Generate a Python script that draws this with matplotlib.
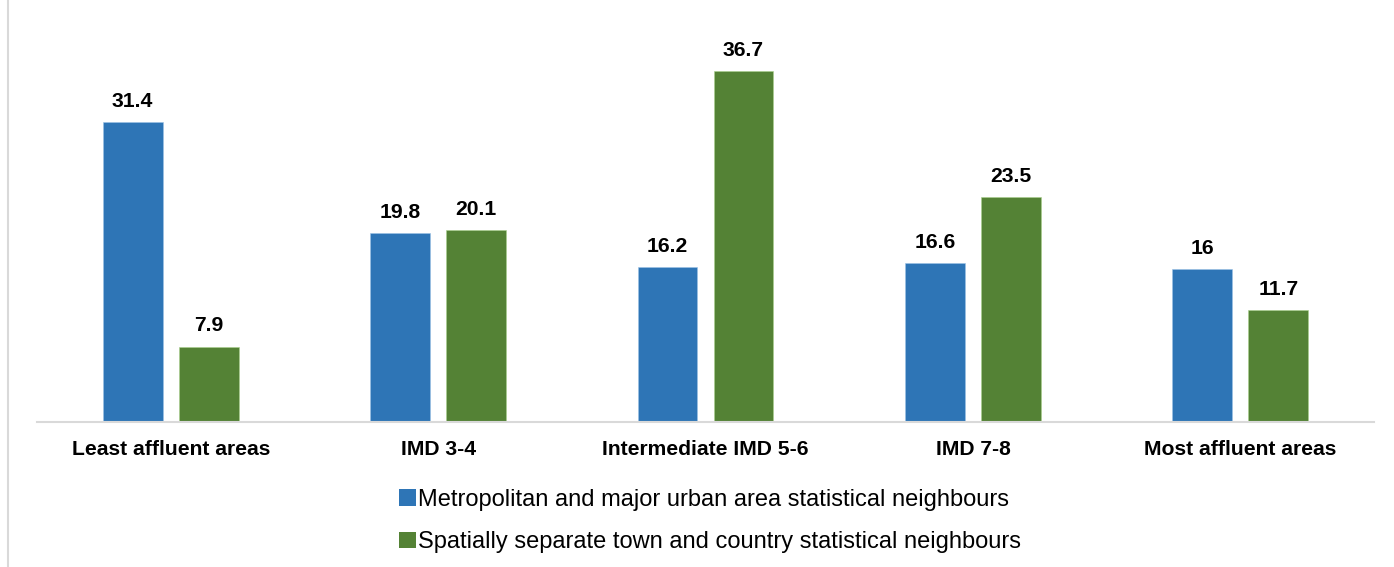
import matplotlib
matplotlib.use("Agg")
import matplotlib.pyplot as plt
from matplotlib.lines import Line2D
from matplotlib.patches import Patch
import numpy as np

categories = ["Least affluent areas", "IMD 3-4", "Intermediate IMD 5-6", "IMD 7-8", "Most affluent areas"]
series_names = ["Metropolitan and major urban area statistical neighbours",
                "Spatially separate town and country statistical neighbours"]
metro = [31.4, 19.8, 16.2, 16.6, 16]
spatial = [7.9, 20.1, 36.7, 23.5, 11.7]
colors = ["#2E75B6", "#548235"]

plt.rcParams['font.family'] = ['Liberation Sans', 'DejaVu Sans']

W, H = 1394, 567
fig = plt.figure(figsize=(W / 100, H / 100), dpi=100)
x0, x1 = 37, 1374
ybase = 422
ax = fig.add_axes([x0 / W, (H - ybase) / H, (x1 - x0) / W, ybase / H])

x = np.arange(len(categories))
bw = 0.224
off = 0.142
b1 = ax.bar(x - off, metro, bw, color=colors[0], edgecolor="#9DC3E6", linewidth=0.4)
b2 = ax.bar(x + off, spatial, bw, color=colors[1], edgecolor="#A9D18E", linewidth=0.4)
for bars, vals in ((b1, metro), (b2, spatial)):
    ax.bar_label(bars, labels=["%g" % v for v in vals], padding=8,
                 fontsize=15.2, fontweight="bold", color="#000000")

ax.set_xlim(-0.5, len(categories) - 0.5)
ax.set_ylim(0, ybase / 9.554)
ax.set_xticks(x)
ax.set_xticklabels(categories, fontsize=15.2, fontweight="bold")
ax.tick_params(axis="x", length=0, pad=13)
ax.set_yticks([])
for s in ["top", "right", "left"]:
    ax.spines[s].set_visible(False)
ax.spines["bottom"].set_color("#D9D9D9")
ax.spines["bottom"].set_linewidth(1.5)

handles = [Patch(facecolor=c, edgecolor="none") for c in colors]
fig.legend(handles, series_names, loc="center", bbox_to_anchor=(710 / W, 1 - 521 / H),
           frameon=False, fontsize=17, handlelength=0.7, handleheight=0.7,
           handletextpad=0.08, labelspacing=0.85, borderaxespad=0)

fig.add_artist(Line2D([8 / W, 8 / W], [0, 1], color="#D9D9D9", linewidth=1.5))

fig.savefig("out.png", dpi=100)
